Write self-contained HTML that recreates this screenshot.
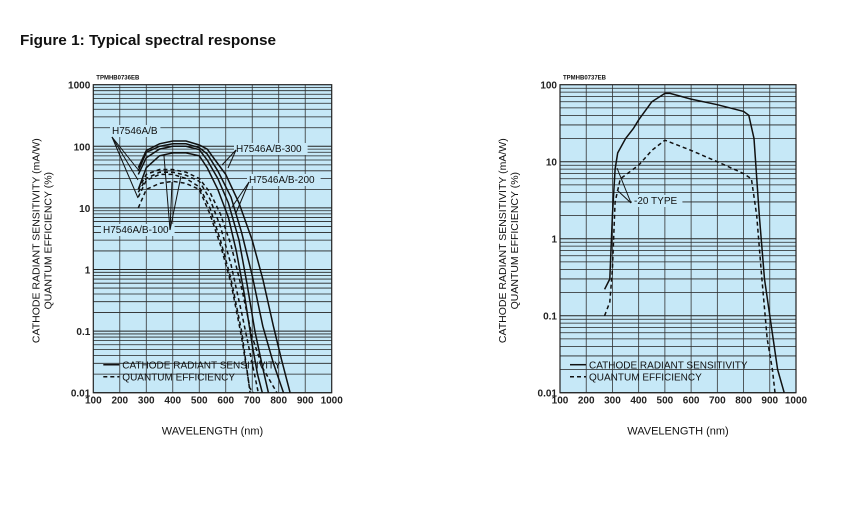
<!DOCTYPE html>
<html><head><meta charset="utf-8"><style>
body{margin:0;background:#fff;width:843px;height:515px;overflow:hidden;font-family:"Liberation Sans",sans-serif}
</style></head><body>
<svg id="s" width="843" height="515" xmlns="http://www.w3.org/2000/svg" font-family="Liberation Sans, sans-serif">
<text x="20" y="45" font-size="15" font-weight="bold" fill="#111" textLength="256" lengthAdjust="spacingAndGlyphs">Figure 1: Typical spectral response</text>
</svg>
<script>
const s=document.getElementById('s');const NS='http://www.w3.org/2000/svg';
function el(t,a,txt){const e=document.createElementNS(NS,t);for(const k in a)e.setAttribute(k,a[k]);if(txt!==undefined)e.textContent=txt;s.appendChild(e);return e;}
function chart(x0,x1,y0,y1,lmin,lmax,code,curves,labels){
 const dec=lmax-lmin;const X=w=>x0+(w-100)/900*(x1-x0);const Y=v=>y1-(Math.log10(v)-lmin)/dec*(y1-y0);
 el('rect',{x:x0,y:y0,width:x1-x0,height:y1-y0,fill:'#c6e8f7'});
 for(let d=lmin;d<lmax;d++)for(let m=1;m<10;m++){const y=Y(m*Math.pow(10,d));el('line',{x1:x0,x2:x1,y1:y,y2:y,stroke:'#222','stroke-width':m==1?1:0.8});}
 for(let w=200;w<1000;w+=100)el('line',{x1:X(w),x2:X(w),y1:y0,y2:y1,stroke:'#333','stroke-width':0.8});
 el('rect',{x:x0,y:y0,width:x1-x0,height:y1-y0,fill:'none',stroke:'#222','stroke-width':1.2});
 for(let w=100;w<=1000;w+=100)el('text',{x:X(w),y:y1+11,'font-size':10,'font-weight':'bold','text-anchor':'middle',fill:'#222'},w);
 for(let d=lmin;d<=lmax;d++){const v=Math.pow(10,d);el('text',{x:x0-3,y:Y(v)+4,'font-size':10,'font-weight':'bold','text-anchor':'end',fill:'#222'},v>=1?String(v):String(+v.toFixed(2)));}
 el('text',{x:x0+3,y:y0-5,'font-size':6,'font-weight':'bold',fill:'#111'},code);
 for(const c of curves){const d='M'+c.p.map(q=>X(q[0]).toFixed(1)+','+Y(q[1]).toFixed(1)).join('L');el('path',{d:d,fill:'none',stroke:'#111','stroke-width':1.5,'stroke-dasharray':c.dash?'4,3':'none'});}
 el('line',{x1:x0+10,x2:x0+26,y1:y1-28,y2:y1-28,stroke:'#111','stroke-width':1.5});
 el('line',{x1:x0+10,x2:x0+26,y1:y1-16,y2:y1-16,stroke:'#111','stroke-width':1.5,'stroke-dasharray':'4,3'});
 el('text',{x:x0+29,y:y1-24,'font-size':10,fill:'#111'},'CATHODE RADIANT SENSITIVITY');
 el('text',{x:x0+29,y:y1-12,'font-size':10,fill:'#111'},'QUANTUM EFFICIENCY');
 el('text',{x:(x0+x1)/2,y:y1+42,'font-size':11,'text-anchor':'middle',fill:'#111'},'WAVELENGTH (nm)');
 const cy=(y0+y1)/2+2;
 el('text',{transform:`translate(${x0-54},${cy}) rotate(-90)`,'font-size':10.5,'text-anchor':'middle',fill:'#111'},'CATHODE RADIANT SENSITIVITY (mA/W)');
 el('text',{transform:`translate(${x0-42},${cy}) rotate(-90)`,'font-size':10.5,'text-anchor':'middle',fill:'#111'},'QUANTUM EFFICIENCY (%)');
 for(const l of labels){const w=l.t.length*5.8+4;el('rect',{x:l.x-2,y:l.y-9,width:w,height:12,fill:'#c6e8f7'});el('text',{x:l.x,y:l.y,'font-size':10,fill:'#111'},l.t);
  for(const a of l.a)el('line',{x1:a[0],y1:a[1],x2:a[2],y2:a[3],stroke:'#111','stroke-width':1});}
}
chart(93.3,331.7,84.7,392.7,-2,3,'TPMHB0736EB',[
{p:[[270,45],[300,85],[350,110],[400,122],[450,122],[500,105],[530,90],[560,60],[600,35],[650,12],[700,3],[740,0.7],[780,0.12],[810,0.035],[843,0.01]]},
{p:[[270,40],[300,80],[350,100],[400,110],[450,110],[500,95],[530,75],[570,40],[620,15],[660,4],[700,0.8],[740,0.12],[780,0.03],[818,0.01]]},
{p:[[270,35],[300,65],[350,90],[400,100],[450,100],[500,88],[530,60],[570,30],[610,12],[650,3],[680,0.6],[710,0.1],[740,0.025],[761,0.01]]},
{p:[[270,20],[300,45],[350,70],[400,78],[450,78],[500,70],[530,45],[570,20],[610,7],[640,2],[670,0.4],[700,0.06],[720,0.02],[738,0.01]]},
{dash:1,p:[[270,20],[300,35],[350,42],[400,42],[450,38],[500,30],[540,18],[580,8],[620,2.5],[660,0.5],[700,0.08],[740,0.025],[793,0.01]]},
{dash:1,p:[[270,18],[300,30],[350,38],[400,38],[450,34],[500,27],[540,14],[580,5],[620,1.2],[660,0.2],[700,0.03],[723,0.01]]},
{dash:1,p:[[270,15],[300,28],[350,35],[400,35],[450,30],[500,22],[540,10],[580,3],[620,0.7],[660,0.1],[692,0.01]]},
{dash:1,p:[[270,10],[300,20],[350,25],[400,27],[450,25],[500,20],[540,8],[580,2.5],[620,0.6],[660,0.08],[690,0.012],[705,0.01]]}
],[
{t:'H7546A/B',x:112,y:134,a:[[112,137,140,172],[112,137,138,180],[112,137,138,198]]},
{t:'H7546A/B-300',x:236,y:152,a:[[236,150,222,165],[236,150,228,168]]},
{t:'H7546A/B-200',x:249,y:183,a:[[249,182,232,207],[249,182,236,213]]},
{t:'H7546A/B-100',x:103,y:233,a:[[170,230,164,156],[170,230,172,182],[170,230,181,176]]}
]);
chart(560,796,84.7,392.7,-2,2,'TPMHB0737EB',[
{p:[[270,0.22],[290,0.3],[300,2],[310,8],[320,13],[350,20],[380,27],[400,35],[450,60],[500,77],[520,77],[600,65],[700,55],[800,45],[820,40],[840,20],[860,2],[880,0.3],[900,0.1],[930,0.02],[955,0.01]]},
{dash:1,p:[[270,0.1],[290,0.15],[300,0.4],[310,3],[330,6],[400,9],[450,14],[500,19],[600,14],[700,10],[800,7],[830,6],[850,2],[870,0.3],[890,0.05],[910,0.02],[920,0.01]]}
],[
{t:'-20 TYPE',x:634,y:204,a:[[631,203,617,168],[631,203,617,190]]}
]);
</script>
</body></html>
